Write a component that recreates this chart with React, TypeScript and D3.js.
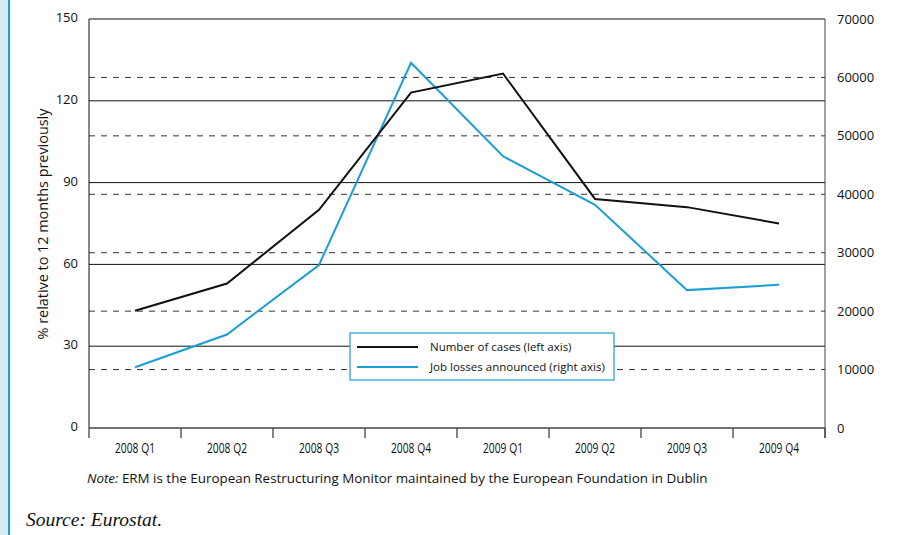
import React, { useEffect, useRef } from 'react';
import * as d3 from 'd3';

const quarters = ['2008 Q1', '2008 Q2', '2008 Q3', '2008 Q4', '2009 Q1', '2009 Q2', '2009 Q3', '2009 Q4'];
const cases = [43, 53, 80, 123, 130, 84, 81, 75];
const jobLosses = [10400, 16000, 27900, 62500, 46500, 38200, 23600, 24500];
const leftTicks = [0, 30, 60, 90, 120, 150];
const rightTicks = [0, 10000, 20000, 30000, 40000, 50000, 60000, 70000];

const width = 903;
const height = 535;
const margin = { top: 19, left: 89, bottom: 107, right: 78 };
const blue = '#1b9dd6';
const font = '"Open Sans", sans-serif';

const App = () => {
  const ref = useRef<SVGSVGElement>(null);

  useEffect(() => {
    const svg = d3.select(ref.current);
    svg.selectAll('*').remove();

    const x = d3.scaleBand().domain(quarters).range([margin.left, width - margin.right]);
    const yL = d3.scaleLinear().domain([0, 150]).range([height - margin.bottom, margin.top]);
    const yR = d3.scaleLinear().domain([0, 70000]).range([height - margin.bottom, margin.top]);
    const x0 = margin.left, x1 = width - margin.right;
    const yb = height - margin.bottom;

    // left side strip
    svg.append('rect').attr('x', 0).attr('y', 0).attr('width', 8).attr('height', height).attr('fill', '#d6ecf7');
    svg.append('rect').attr('x', 8).attr('y', 0).attr('width', 2).attr('height', height).attr('fill', blue);

    // dashed grid (right axis)
    svg.append('g').selectAll('line').data(rightTicks.filter(d => d > 0 && d < 70000)).join('line')
      .attr('x1', x0).attr('x2', x1).attr('y1', d => yR(d)).attr('y2', d => yR(d))
      .attr('stroke', '#333').attr('stroke-width', 1).attr('stroke-dasharray', '6,6');

    // solid grid (left axis)
    svg.append('g').selectAll('line').data(leftTicks.filter(d => d > 0)).join('line')
      .attr('x1', x0).attr('x2', x1).attr('y1', d => yL(d)).attr('y2', d => yL(d))
      .attr('stroke', '#111').attr('stroke-width', 1);

    // axes frame
    svg.append('line').attr('x1', x0).attr('x2', x0).attr('y1', margin.top).attr('y2', yb).attr('stroke', '#111');
    svg.append('line').attr('x1', x1).attr('x2', x1).attr('y1', margin.top).attr('y2', yb + 10).attr('stroke', '#444');
    svg.append('line').attr('x1', x0).attr('x2', x1).attr('y1', yb).attr('y2', yb).attr('stroke', '#444').attr('stroke-width', 1.5);

    // x ticks at band edges
    const edges = quarters.map(q => x(q) as number).concat([x1]);
    svg.append('g').selectAll('line').data(edges).join('line')
      .attr('x1', d => d).attr('x2', d => d).attr('y1', yb).attr('y2', yb + 10)
      .attr('stroke', '#333').attr('stroke-width', 1.2);

    svg.append('g').selectAll('text').data(quarters).join('text')
      .attr('x', d => (x(d) as number) + x.bandwidth() / 2).attr('y', yb + 25)
      .attr('text-anchor', 'middle').attr('font-family', font)
      .attr('font-size', 14.5).attr('textLength', 40).attr('lengthAdjust', 'spacingAndGlyphs')
      .attr('fill', '#111').text(d => d);

    // left tick labels
    svg.append('g').selectAll('text').data(leftTicks).join('text')
      .attr('x', 78).attr('y', d => yL(d)).attr('dy', '0.25em')
      .attr('text-anchor', 'end').attr('font-family', font).attr('font-size', 13).attr('fill', '#111')
      .text(d => d);

    // right tick labels
    svg.append('g').selectAll('text').data(rightTicks).join('text')
      .attr('x', 837).attr('y', d => yR(d)).attr('dy', '0.35em')
      .attr('text-anchor', 'start').attr('font-family', font).attr('font-size', 13).attr('fill', '#111')
      .text(d => d);

    // y label
    svg.append('text')
      .attr('transform', `translate(48,224) rotate(-90)`)
      .attr('text-anchor', 'middle').attr('font-family', font).attr('font-size', 14.4).attr('fill', '#111')
      .text('% relative to 12 months previously');

    const cx = (i: number) => (x(quarters[i]) as number) + x.bandwidth() / 2;

    svg.append('path').datum(jobLosses)
      .attr('d', d3.line<number>().x((d, i) => cx(i)).y(d => yR(d)))
      .attr('fill', 'none').attr('stroke', blue).attr('stroke-width', 2);

    svg.append('path').datum(cases)
      .attr('d', d3.line<number>().x((d, i) => cx(i)).y(d => yL(d)))
      .attr('fill', 'none').attr('stroke', '#111').attr('stroke-width', 2);

    // legend
    const lg = svg.append('g').attr('transform', 'translate(350,333)');
    lg.append('rect').attr('width', 264).attr('height', 47).attr('fill', 'white').attr('stroke', blue).attr('stroke-width', 1.2);
    const items = [
      { label: 'Number of cases (left axis)', color: '#111' },
      { label: 'Job losses announced (right axis)', color: blue },
    ];
    items.forEach((it, i) => {
      lg.append('line').attr('x1', 7).attr('x2', 68).attr('y1', 14 + i * 20).attr('y2', 14 + i * 20)
        .attr('stroke', it.color).attr('stroke-width', 2);
      lg.append('text').attr('x', 80).attr('y', 14 + i * 20).attr('dy', '0.35em')
        .attr('font-family', font).attr('font-size', 11.5).attr('fill', '#111').text(it.label);
    });

    // note
    const note = svg.append('text').attr('x', 87).attr('y', 483)
      .attr('font-family', font).attr('font-size', 13.4).attr('fill', '#111');
    note.append('tspan').attr('font-style', 'italic').text('Note:');
    note.append('tspan').text(' ERM is the European Restructuring Monitor maintained by the European Foundation in Dublin');

    svg.append('text').attr('x', 26).attr('y', 526)
      .attr('font-family', '"Liberation Serif", serif').attr('font-style', 'italic').attr('font-size', 19.5)
      .attr('fill', '#111').text('Source: Eurostat.');
  }, []);

  return (
    <svg ref={ref} width={width} height={height}
      style={{ position: 'absolute', left: 0, top: 0, background: 'white' }} />
  );
};

export default App;
